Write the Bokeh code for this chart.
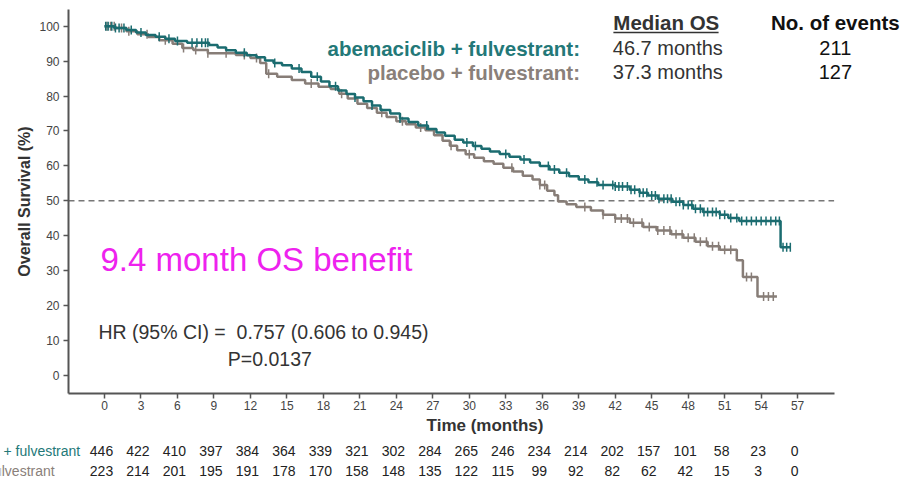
import numpy as np
from bokeh.plotting import figure
from bokeh.layouts import column
from bokeh.models import Range1d, FixedTicker, Label
from bokeh.core.properties import value
from bokeh.embed import file_html
from bokeh.resources import INLINE

# ---------------- data ----------------
months_ticks = [0, 3, 6, 9, 12, 15, 18, 21, 24, 27, 30, 33, 36, 39, 42, 45, 48, 51, 54, 57]
surv_ticks = [0, 10, 20, 30, 40, 50, 60, 70, 80, 90, 100]

# abemaciclib + fulvestrant: step times (months) and survival (%) after each step
abema_t = [0, 0.8, 1.8, 2.6, 3.4, 4.2, 5.0, 5.8, 6.8, 8.6, 9.3, 10.0, 10.8, 11.7, 12.5,
           13.2, 13.9, 14.6, 15.4, 16.2, 17.0, 17.8, 18.5, 19.2, 19.9, 20.6, 21.3, 22.0,
           22.7, 23.5, 24.3, 25.0, 25.8, 26.6, 27.3, 28.0, 28.8, 29.5, 30.3, 31.0, 31.7,
           32.5, 33.3, 34.2, 35.0, 35.8, 36.6, 37.4, 38.2, 39.0, 39.8, 40.6, 42.0, 43.2,
           44.0, 44.7, 45.5, 46.7, 47.6, 48.4, 49.2, 50.6, 51.3, 52.2, 55.6, 56.4]
abema_s = [100, 99.5, 98.9, 98.2, 97.5, 97.0, 96.4, 95.8, 95.3, 94.6, 93.9, 93.1, 92.4, 91.7,
           91.1, 90.2, 89.5, 88.8, 87.9, 86.9, 85.5, 84.2, 82.8, 81.6, 80.6, 79.6, 78.5,
           77.3, 76.0, 75.0, 73.6, 72.6, 71.6, 70.6, 69.6, 68.6, 67.5, 66.7, 65.7, 64.9,
           64.1, 63.4, 62.6, 61.8, 61.0, 60.0, 59.0, 58.0, 57.0, 56.1, 55.3, 54.5, 54.1,
           53.2, 52.3, 51.5, 50.6, 49.7, 48.8, 47.7, 46.8, 46.0, 45.1, 44.2, 36.7, 36.7]
abema_cens = [0.1, 0.3, 0.6, 0.9, 1.2, 1.6, 2.2, 3.0, 4.5, 5.3, 6.0, 7.2, 7.6, 8.0, 8.3, 8.5,
              11.5, 14.0, 16.0, 17.5, 19.0, 20.6, 22.0, 24.3, 26.5, 29.8, 30.5, 33.0, 34.5,
              36.5, 37.0, 38.0, 39.5, 40.5, 41.0, 41.8, 42.0, 42.3, 42.6, 43.0, 43.3, 43.6,
              44.0, 44.3, 44.6, 45.0, 45.3, 45.6, 46.0, 46.3, 46.6, 47.0, 47.3, 47.6, 48.0,
              48.3, 48.6, 49.0, 49.3, 49.6, 50.0, 50.3, 50.6, 51.0, 51.5, 52.0, 52.4, 52.8,
              53.2, 53.6, 54.0, 54.4, 54.8, 55.2, 55.5, 55.8, 56.1, 56.4]

# placebo + fulvestrant
plac_t = [0, 0.9, 1.8, 2.7, 3.6, 4.5, 5.6, 6.4, 7.3, 8.5, 10.8, 12.0, 12.8, 13.3, 14.2,
          15.4, 16.5, 17.6, 18.6, 19.3, 20.0, 20.8, 21.6, 22.4, 23.2, 24.0, 24.8, 25.6,
          26.4, 27.1, 27.8, 28.4, 29.0, 29.7, 30.4, 31.2, 32.0, 32.8, 33.6, 34.4, 35.2,
          35.8, 36.4, 37.0, 37.3, 38.0, 38.8, 40.0, 41.0, 42.0, 43.2, 44.3, 45.4, 46.6,
          47.6, 48.6, 49.6, 50.6, 52.0, 52.5, 53.7, 55.3]
plac_s = [100, 99.5, 98.6, 97.7, 96.9, 96.0, 95.0, 93.8, 93.2, 92.3, 91.8, 90.9, 89.5, 86.4,
          85.5, 84.6, 83.6, 82.7, 82.0, 80.7, 79.3, 77.8, 76.6, 75.2, 74.0, 72.8, 71.9,
          71.0, 70.2, 68.8, 67.2, 65.8, 64.5, 63.3, 62.3, 61.3, 60.6, 59.5, 58.4, 57.2,
          56.1, 54.5, 52.9, 51.6, 49.8, 49.0, 48.2, 47.2, 46.0, 44.9, 43.7, 42.5, 41.5,
          40.4, 39.4, 38.3, 37.0, 36.0, 33.0, 28.2, 22.6, 22.6]
plac_cens = [0.2, 0.5, 0.8, 1.4, 2.0, 3.5, 5.0, 6.5, 7.5, 8.5, 10.0, 11.5, 12.5, 13.5, 17.0,
             19.5, 22.8, 24.5, 26.0, 28.5, 30.0, 33.5, 35.8, 36.2, 39.5, 41.0, 42.0, 42.5,
             43.0, 43.5, 44.2, 44.8, 45.5, 46.0, 46.5, 47.0, 47.5, 48.0, 48.5, 49.0, 49.5,
             50.0, 50.5, 51.0, 51.5, 52.8, 53.2, 54.2, 54.6, 55.0]

risk_abema = [446, 422, 410, 397, 384, 364, 339, 321, 302, 284, 265, 246, 234, 214, 202, 157, 101, 58, 23, 0]
risk_plac = [223, 214, 201, 195, 191, 178, 170, 158, 148, 135, 122, 115, 99, 92, 82, 62, 42, 15, 3, 0]

arm_names = ["abemaciclib + fulvestrant", "placebo + fulvestrant"]
median_os = ["46.7 months", "37.3 months"]
n_events = ["211", "127"]

TEAL = "#1b6c70"
TEAL_TXT = "#237878"
GRAY = "#877d77"
GRAY_TXT = "#8a807a"
FONT = "Liberation Sans"

# layout: pixels per month and axis extent
W = 901
LEFT = 68
ZERO_PX = 104
PX_PER_MONTH = 12.16
X_LO = (LEFT - ZERO_PX) / PX_PER_MONTH
X_AXIS_END = 60.0
X_HI = X_LO + (W - LEFT) / PX_PER_MONTH

p = figure(width=W, height=440, output_backend="svg", toolbar_location=None,
           x_range=Range1d(X_LO, X_HI), y_range=Range1d(-5.2, 104.8),
           min_border_left=LEFT, min_border_right=0, min_border_top=9, min_border_bottom=47)
p.frame_align = False
p.outline_line_color = None
p.grid.grid_line_color = None

for ax in (p.xaxis[0], p.yaxis[0]):
    ax.axis_line_color = "#555555"
    ax.axis_line_width = 2
    ax.major_tick_line_color = "#555555"
    ax.major_tick_line_width = 1.5
    ax.major_tick_out = 5
    ax.major_tick_in = 0
    ax.minor_tick_line_color = None
    ax.major_label_text_font = FONT
    ax.major_label_text_font_size = "12px"
    ax.major_label_text_color = "#444444"
    ax.axis_label_text_font = FONT
    ax.axis_label_text_font_style = "bold"
    ax.axis_label_text_color = "#333333"

p.xaxis.bounds = (X_LO, X_AXIS_END)
p.xaxis.ticker = FixedTicker(ticks=months_ticks)
p.yaxis.ticker = FixedTicker(ticks=surv_ticks)
p.xaxis.axis_label = "Time (months)"
p.xaxis.axis_label_text_font_size = "17px"
p.xaxis.axis_label_standoff = 3
p.xaxis.major_label_standoff = 2
p.yaxis.axis_label = "Overall Survival (%)"
p.yaxis.axis_label_text_font_size = "16px"
p.yaxis.axis_label_standoff = 3
p.yaxis.major_label_standoff = 4

# median reference line (dashed at 50 %)
p.line([X_LO, X_AXIS_END], [50, 50], line_color="#777777", line_dash="6 4", line_width=1.5)

def surv_at(times, surv, t):
    idx = np.searchsorted(np.array(times), np.array(t), side="right") - 1
    return np.array(surv)[idx]

for t_arr, s_arr, c_arr, col in [(plac_t, plac_s, plac_cens, GRAY),
                                 (abema_t, abema_s, abema_cens, TEAL)]:
    p.step(t_arr, s_arr, mode="after", line_color=col, line_width=2.5)
    p.scatter(c_arr, surv_at(t_arr, s_arr, c_arr), marker="dash", angle=np.pi / 2,
              size=9, line_color=col, line_width=1.5)

def add_label(fig, x, y, text, size, color, style="normal", align="left"):
    fig.add_layout(Label(x=x, y=y, text=text, text_font=FONT, text_font_size=size,
                         text_color=color, text_font_style=style, text_align=align,
                         text_baseline="middle"))

# legend block
NB = "\u00a0"
add_label(p, 46.2, 101.1, "Median OS", "20.5px", "#333333", "bold", "center")
p.line([41.85, 50.5], [98.2, 98.2], line_color="#333333", line_width=1.5)
add_label(p, 60.1, 101.1, "No. of events", "20.5px", "#111111", "bold", "center")
add_label(p, 39.1, 93.7, arm_names[0] + ":", "20.5px", TEAL_TXT, "bold", "right")
add_label(p, 39.1, 86.8, arm_names[1] + ":", "20.5px", GRAY_TXT, "bold", "right")
add_label(p, 41.8, 93.7, median_os[0], "20px", "#333333", "normal", "left")
add_label(p, 41.8, 86.8, median_os[1], "20px", "#333333", "normal", "left")
add_label(p, 60.1, 93.7, n_events[0], "20px", "#111111", "normal", "center")
add_label(p, 60.1, 86.8, n_events[1], "20px", "#111111", "normal", "center")

add_label(p, -0.33, 33.2, "9.4 month OS benefit", "33px", "#ee22ee", "normal", "left")
add_label(p, -0.5, 12.4, "HR (95% CI) =" + NB + NB + "0.757 (0.606 to 0.945)", "19.5px", "#333333")
add_label(p, 13.6, 4.6, "P=0.0137", "19.5px", "#333333", "normal", "center")

# ---------------- numbers-at-risk table ----------------
R_LO = -ZERO_PX / PX_PER_MONTH
R_HI = R_LO + W / PX_PER_MONTH
q = figure(width=W, height=38, output_backend="svg", toolbar_location=None,
           x_range=Range1d(R_LO, R_HI), y_range=Range1d(-0.4, 1.5),
           min_border=0, min_border_left=0, min_border_right=0,
           min_border_top=0, min_border_bottom=0,
           x_axis_location=None, y_axis_location=None)
q.frame_align = False
q.outline_line_color = None
q.grid.grid_line_color = None

rows = [(risk_abema, 1, arm_names[0], TEAL_TXT, -2.0),
        (risk_plac, 0, arm_names[1], GRAY_TXT, -4.1)]
for risk, row, name, col, name_x in rows:
    q.text(x=months_ticks, y=[row] * len(months_ticks), text=[str(v) for v in risk],
           text_font=value(FONT), text_font_size="14px", text_color="#222222",
           text_align="center", text_baseline="middle", x_offset=-3)
    q.text(x=[name_x], y=[row], text=[name], text_font=value(FONT), text_font_size="14px",
           text_color=col, text_align="right", text_baseline="middle")

open("out.html", "w").write(file_html(column(p, q, spacing=0), INLINE))
